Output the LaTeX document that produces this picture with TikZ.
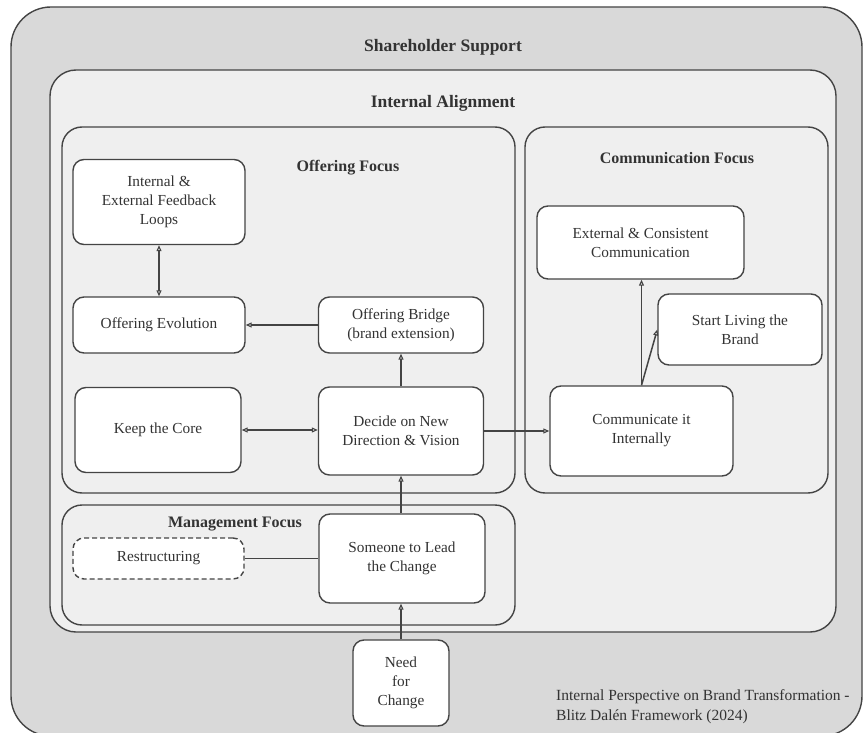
\documentclass[tikz,border=0pt]{standalone}
\usepackage{fontspec}
\setmainfont{Liberation Serif}
\usetikzlibrary{arrows.meta}
\definecolor{linec}{HTML}{444444}
\definecolor{textc}{HTML}{333333}
\definecolor{outerfill}{HTML}{D9D9D9}
\definecolor{innerfill}{HTML}{EFEFEF}
\tikzset{
  container/.style={draw=linec, line width=1.4pt},
  nbox/.style={draw=linec, line width=1.4pt, fill=white, rounded corners=11pt,
    align=center, text=textc, inner sep=2pt,
    font=\fontsize{15.3}{19}\selectfont},
  title/.style={text=textc, font=\bfseries\fontsize{16}{19}\selectfont},
  bigtitle/.style={text=textc, font=\bfseries\fontsize{17.5}{20}\selectfont},
  conn/.style={draw=linec, line width=1.5pt},
  tip/.tip={Triangle[open,length=6pt,width=5pt,line width=1.1pt]},
}
\begin{document}
\begin{tikzpicture}[x=1pt,y=-1pt]
\useasboundingbox (0,0) rectangle (868,733);
\begin{scope}
\clip (0,0) rectangle (868,733);
% outer
\draw[container, fill=outerfill, rounded corners=40pt] (11,7) rectangle (862,736);
\end{scope}
\draw[container, fill=innerfill, rounded corners=26pt] (50,70) rectangle (836,632);
\draw[container, rounded corners=20pt] (62,127) rectangle (515,493);
\draw[container, rounded corners=20pt] (525,127) rectangle (828,493);
\draw[container, rounded corners=20pt] (62,505) rectangle (515,625);

\node[bigtitle] (tss) at (443,47) {Shareholder Support};
\node[bigtitle] (tia) at (443,103) {Internal Alignment};
\node[title] (tof) at (348,168) {Offering Focus};
\node[title] (tcf) at (677,158) {Communication Focus};
\node[title] (tmf) at (235,524) {Management Focus};

\node[nbox, minimum width=172pt, minimum height=85pt] (fb) at (159,202) {Internal \&\\External Feedback\\Loops};
\node[nbox, minimum width=172pt, minimum height=56pt] (oe) at (159,325) {Offering Evolution};
\node[nbox, minimum width=165pt, minimum height=56pt] (ob) at (401,325) {Offering Bridge\\(brand extension)};
\node[nbox, minimum width=165pt, minimum height=88pt] (dn) at (401,431) {Decide on New\\Direction \& Vision};
\node[nbox, minimum width=166pt, minimum height=85pt] (kc) at (158,430) {Keep the Core};
\node[nbox, minimum width=207pt, minimum height=73pt] (ec) at (640.5,242.5) {External \& Consistent\\Communication};
\node[nbox, minimum width=164pt, minimum height=71pt] (sl) at (740,329.5) {Start Living the\\Brand};
\node[nbox, minimum width=183pt, minimum height=90pt] (ci) at (641.5,431) {Communicate it\\Internally};
\node[nbox, dashed, dash pattern=on 5pt off 3pt, minimum width=171pt, minimum height=41pt] (rs) at (158.5,558.5) {Restructuring};
\node[nbox, minimum width=166pt, minimum height=89pt] (sm) at (402,558.5) {Someone to Lead\\the Change};
\node[nbox, minimum width=96pt, minimum height=86pt] (nc) at (401,683) {Need\\for\\Change};

\node[text=textc, font=\fontsize{15.5}{20}\selectfont, align=left, anchor=west, inner sep=0pt] (cap) at (556,707) {Internal Perspective on Brand Transformation -\\Blitz Dalén Framework (2024)};

\draw[conn, tip-tip] (fb.south) -- (oe.north);
\draw[conn, -tip] (ob.west) -- (oe.east);
\draw[conn, -tip] (dn.north) -- (ob.south);
\draw[conn, tip-tip] (kc.east) -- (dn.west |- kc.east);
\draw[conn, -tip] (dn.east) -- (ci.west);
\draw[conn, -tip] (ci.north) -- (ci.north |- ec.south);
\draw[conn, -tip] (ci.north) -- (sl.west);
\draw[conn] (rs.east) -- (sm.west |- rs.east);
\draw[conn, -tip] (sm.north -| dn.south) -- (dn.south);
\draw[conn, -tip] (nc.north) -- (nc.north |- sm.south);
\end{tikzpicture}
\end{document}
